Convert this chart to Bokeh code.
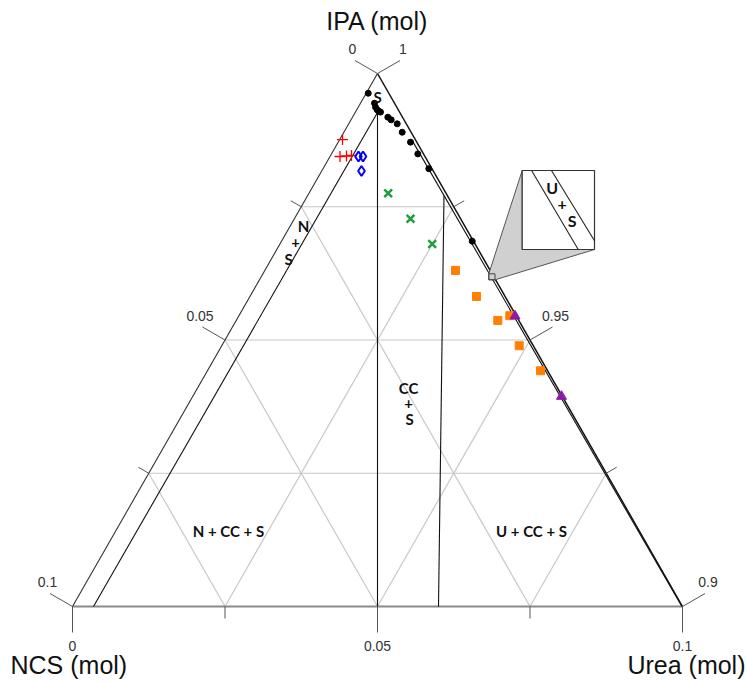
import numpy as np
from bokeh.plotting import figure
from bokeh.models import Range1d
from bokeh.core.properties import value
from bokeh.embed import file_html
from bokeh.resources import INLINE

# ---------------- data (mole fractions; IPA = 1 - urea - ncs) ----------------
# solubility curve of S (black dots)
dot_urea = [0.00033, 0.00229, 0.00284, 0.00336, 0.00375, 0.00411, 0.00579, 0.00659,
            0.00795, 0.00956, 0.01185, 0.01415, 0.01734, 0.03126]
dot_ncs = [0.00337, 0.00328, 0.00349, 0.00346, 0.00333, 0.00313, 0.00241, 0.00210,
           0.00149, 0.00146, 0.00103, 0.00093, 0.00052, 0.00020]
# red plus
plus_urea = [0.00046, 0.00164, 0.00266, 0.00343]
plus_ncs = [0.01193, 0.01393, 0.01282, 0.01195]
# blue diamonds
dia_urea = [0.00467, 0.00541, 0.00652]
dia_ncs = [0.01090, 0.01016, 0.01177]
# green crosses
x_urea = [0.01298, 0.01903, 0.02495]
x_ncs = [0.00948, 0.00821, 0.00702]
# orange squares
sq_urea = [0.03126, 0.03715, 0.04289, 0.04441, 0.04877, 0.05461]
sq_ncs = [0.00569, 0.00469, 0.00344, 0.00103, 0.00231, 0.00116]
# purple triangles
tri_urea = [0.04530, 0.06046]
tri_ncs = [0.00021, 0.00013]

# phase boundaries (start, end) as (urea, ncs)
bound_ns = [(0.00365, 0.00365), (0.00344, 0.09656)]      # N + S
bound_cc = [(0.00365, 0.00365), (0.05, 0.05)]            # CC join
bound_ucc = [(0.02234, 0.00054), (0.06, 0.04)]           # U + CC
bound_us = [(0.01185, 0.00060), (0.0999, 0.0001)]        # U + S

# axis ranges and ticks
SPAN = 0.1
tick_fracs = [0, 0.25, 0.5, 0.75, 1.0]
major = [True, False, True, False, True]
urea_labels = ["0", "", "0.05", "", "0.1"]
ncs_labels = ["0", "", "0.05", "", "0.1"]
ipa_labels = ["0.9", "", "0.95", "", "1"]


# ---------------- geometry helpers ----------------
def tern(urea, ncs):
    u = np.asarray(urea, float) / SPAN
    n = np.asarray(ncs, float) / SPAN
    i = 1 - u - n
    return u + 0.5 * i, i


SX, SY = 610.0, 533.0          # px per plot unit
OX, OY = 72.0, 606.0           # canvas px of the NCS corner


def px(x, y):
    """canvas pixel -> plot units (for decorations only)"""
    return (np.asarray(x, float) - OX) / SX, (OY - np.asarray(y, float)) / SY


W, H = 746, 681
x0 = -OX / SX
y1 = OY / SY
p = figure(width=W, height=H, output_backend="svg", toolbar_location=None,
           x_range=Range1d(x0, x0 + W / SX), y_range=Range1d(y1 - H / SY, y1),
           x_axis_type=None, y_axis_type=None, min_border=0,
           min_border_left=0, min_border_right=0, min_border_top=0, min_border_bottom=0,
           outline_line_color=None, background_fill_color="white",
           border_fill_color="white")
p.grid.visible = False

# grid lines
gx, gy = [], []
for k in [0.25, 0.5, 0.75]:
    for a, b in [((0, SPAN * (1 - k)), (SPAN * (1 - k), 0)),      # constant IPA
                 ((SPAN * k, SPAN * (1 - k)), (SPAN * k, 0)),      # constant urea
                 ((SPAN * (1 - k), SPAN * k), (0, SPAN * k))]:     # constant NCS
        xs, ys = tern([a[0], b[0]], [a[1], b[1]])
        gx.append(list(xs)); gy.append(list(ys))
p.multi_line(gx, gy, line_color="#c8c8c8", line_width=1.2)

# triangle edges
ex, ey = tern([0, SPAN], [SPAN, 0])
p.line(ex, ey, line_color="#8a8a8a", line_width=2)
ex, ey = tern([0, 0], [SPAN, 0])
p.line(ex, ey, line_color="#333333", line_width=1.1)
ex, ey = tern([0, SPAN], [0, 0])
p.line(ex, ey, line_color="#111111", line_width=1.5)

# phase boundaries
for seg in [bound_ns, bound_cc, bound_ucc, bound_us]:
    bx, by = tern([seg[0][0], seg[1][0]], [seg[0][1], seg[1][1]])
    p.line(bx, by, line_color="#111111", line_width=1.1)

# ticks
LMAJ, LMIN = 26.0, 12.0
c30, s30 = np.cos(np.pi / 6), np.sin(np.pi / 6)
tx, ty = [], []
lab_x, lab_y, lab_t = [], [], []
for f, mj, tu, tn, ti in zip(tick_fracs, major, urea_labels, ncs_labels, ipa_labels):
    L = LMAJ if mj else LMIN
    # bottom (urea)
    bx, by = tern(SPAN * f, SPAN * (1 - f))
    tx.append([bx, bx]); ty.append([by, by - L / SY])
    if tu:
        lab_x.append(bx); lab_y.append(by - 39 / SY); lab_t.append(tu)
    # left (NCS)
    lx, ly = tern(0, SPAN * f)
    tx.append([lx, lx - c30 * L / SX]); ty.append([ly, ly + s30 * L / SY])
    if tn:
        lab_x.append(lx - 25 / SX); lab_y.append(ly + 24.5 / SY); lab_t.append(tn)
    # right (IPA)
    rx, ry = tern(SPAN * (1 - f), 0)
    tx.append([rx, rx + c30 * L / SX]); ty.append([ry, ry + s30 * L / SY])
    if ti:
        lab_x.append(rx + 25.5 / SX); lab_y.append(ry + 24.5 / SY); lab_t.append(ti)
p.multi_line(tx, ty, line_color="#555555", line_width=1)
p.text(lab_x, lab_y, text=lab_t, text_font=value("Liberation Sans"), text_font_size="14px",
       text_color="#333333", text_align="center", text_baseline="middle")

# axis titles
tx_, ty_ = px([377, 10, 745], [20, 664, 664])
p.text([tx_[0]], [ty_[0]], text=["IPA (mol)"], text_font=value("Liberation Sans"),
       text_font_size="25px", text_color="#111111", text_align="center", text_baseline="middle")
p.text([tx_[1]], [ty_[1]], text=["NCS (mol)"], text_font=value("Liberation Sans"),
       text_font_size="25px", text_color="#111111", text_align="left", text_baseline="middle")
p.text([tx_[2]], [ty_[2]], text=["Urea (mol)"], text_font=value("Liberation Sans"),
       text_font_size="25px", text_color="#111111", text_align="right", text_baseline="middle")

# markers
mx, my = tern(dot_urea, dot_ncs)
p.scatter(mx, my, marker="circle", size=6, fill_color="black", line_color="black")
mx, my = tern(plus_urea, plus_ncs)
p.scatter(mx, my, marker="cross", size=11, line_color="red", line_width=1.3)
mx, my = tern(dia_urea, dia_ncs)
p.scatter(mx, my, marker="diamond", size=10, fill_color=None, line_color="blue", line_width=2)
mx, my = tern(x_urea, x_ncs)
p.scatter(mx, my, marker="x", size=11, line_color="#1f9e3c", line_width=2.5)
mx, my = tern(sq_urea, sq_ncs)
p.scatter(mx, my, marker="square", size=8, fill_color="#ff8000", line_color="#ff8000")
mx, my = tern(tri_urea, tri_ncs)
p.scatter(mx, my, marker="triangle", size=10, fill_color="#8e18a8", line_color="#8e18a8")

# phase labels
labels = [("S", 377, 96), ("N", 303, 225), ("+", 295, 242), ("S", 288, 258),
          ("CC", 408, 387), ("+", 408, 403), ("S", 409, 418),
          ("N + CC + S", 228, 530), ("U + CC + S", 531, 530)]
lx, ly = px([l[1] for l in labels], [l[2] for l in labels])
p.text(lx, ly, text=[l[0] for l in labels], text_font=value("Lato"), text_font_style="bold",
       text_font_size="15px", text_color="#111111", text_align="center", text_baseline="middle")

# inset (magnified view of the U + S strip)
IB = (521.7, 170.0, 594.0, 249.0)          # inset box: left, top, right, bottom (canvas px)
SB = (488.3, 273.3, 494.5, 279.3)          # small box on the diagram
polx, poly = px([IB[0], SB[0], SB[0], SB[2], IB[2], IB[0]],
                [IB[1], SB[1], SB[3], SB[3], IB[3], IB[3]])
p.patch(polx, poly, fill_color="#d0d0d0", line_color="#555555", line_width=1)
bx, by = px([IB[0], IB[2], IB[2], IB[0]], [IB[1], IB[1], IB[3], IB[3]])
p.patch(bx, by, fill_color="white", line_color="#333333", line_width=1.2)
sbx, sby = px([SB[0], SB[2], SB[2], SB[0]], [SB[1], SB[1], SB[3], SB[3]])
p.patch(sbx, sby, fill_color=None, line_color="#444444", line_width=1)


def inset_pt(fx, fy):
    return px(IB[0] + fx * (IB[2] - IB[0]), IB[1] + fy * (IB[3] - IB[1]))


for (f1, f2) in [((0.13, 0.0), (0.775, 1.0)), ((0.405, 0.0), (1.0, 0.89))]:
    a = inset_pt(*f1); b = inset_pt(*f2)
    p.line([a[0], b[0]], [a[1], b[1]], line_color="#222222", line_width=1.1)
il = [("U", 551.7, 187), ("+", 561.7, 203.5), ("S", 571.7, 219.5)]
ilx, ily = px([l[1] for l in il], [l[2] for l in il])
p.text(ilx, ily, text=[l[0] for l in il], text_font=value("Lato"), text_font_style="bold",
       text_font_size="16px", text_color="#111111", text_align="center", text_baseline="middle")

open("out.html", "w").write(file_html(p, INLINE))
